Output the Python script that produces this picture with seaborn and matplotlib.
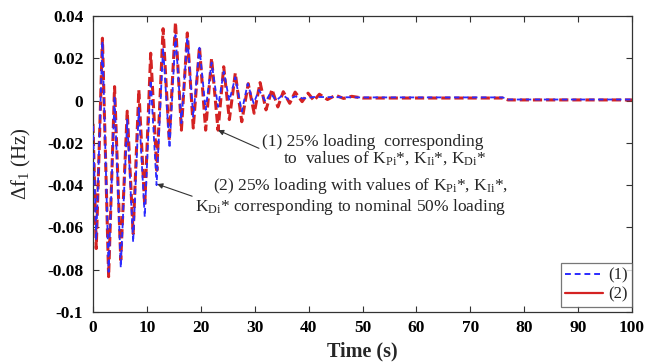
import numpy as np
import pandas as pd
import seaborn as sns
import matplotlib
matplotlib.use("Agg")
import matplotlib.pyplot as plt
from matplotlib.lines import Line2D

# ---- data (extrema) ----
t1 = [0, 0.6, 1.75, 2.9, 4.0, 5.15, 6.35, 7.45, 8.5, 9.6, 10.7, 11.8, 13.0, 14.2,
      15.3, 16.4, 17.5, 18.6, 19.75, 20.9, 22.0, 23.2, 24.25, 25.3, 26.4, 27.6,
      28.7, 29.8, 30.8, 32.0, 32.9, 34.0, 35.2, 36.3, 37.5, 39.0, 41.0, 50.0,
      76.0, 77.0, 100.0]
v1 = [-0.012, -0.066, 0.028, -0.081, 0.002, -0.079, -0.009, -0.067, -0.0035,
      -0.055, 0.0097, -0.040, 0.025, -0.0225, 0.031, -0.0107, 0.030, -0.0076,
      0.025, -0.0044, 0.018, -0.003, 0.0137, 0.0, 0.011, -0.0052, 0.008,
      -0.0013, 0.005, -0.0005, 0.0035, 0.0, 0.0027, 0.0005, 0.002, 0.001,
      0.0017, 0.0015, 0.0015, 0.0005, 0.0005]

t2 = [0, 0.6, 1.75, 2.9, 4.0, 5.15, 6.35, 7.45, 8.5, 9.6, 10.7, 11.85, 13.0,
      14.15, 15.3, 16.4, 17.5, 18.6, 19.75, 20.9, 22.0, 23.2, 24.25, 25.3, 26.4,
      27.6, 28.8, 29.9, 31.0, 32.1, 33.2, 34.3, 35.3, 36.5, 37.5, 38.8, 39.9,
      41.0, 42.0, 43.5, 45.0, 46.5, 48.0, 50.0, 76.0, 77.0, 100.0]
v2 = [-0.011, -0.070, 0.0295, -0.0833, 0.0066, -0.0754, -0.005, -0.063, 0.005,
      -0.050, 0.0224, -0.033, 0.034, -0.019, 0.037, -0.014, 0.032, -0.013,
      0.0255, -0.014, 0.020, -0.014, 0.016, -0.009, 0.013, -0.010, 0.008,
      -0.006, 0.0085, -0.0044, 0.0053, -0.003, 0.0042, -0.0013, 0.004, -0.0005,
      0.0035, 0.0, 0.003, 0.0005, 0.0025, 0.001, 0.002, 0.0012, 0.0012, 0.0003,
      0.0003]

xticks = [0, 10, 20, 30, 40, 50, 60, 70, 80, 90, 100]
yticks = [0.04, 0.02, 0, -0.02, -0.04, -0.06, -0.08, -0.1]
ytick_labels = ["0.04", "0.02", "0", "-0.02", "-0.04", "-0.06", "-0.08", "-0.1"]
series_labels = ["(1)", "(2)"]

df1 = pd.DataFrame({"t": t1, "v": v1})
df2 = pd.DataFrame({"t": t2, "v": v2})

sns.set_style("ticks")
plt.rcParams["font.family"] = ["Liberation Serif", "DejaVu Serif"]
plt.rcParams["mathtext.fontset"] = "custom"
plt.rcParams["mathtext.rm"] = "Liberation Serif"
plt.rcParams["mathtext.it"] = "Liberation Serif:italic"

fig = plt.figure(figsize=(6.57, 3.62), dpi=100)
ax = fig.add_axes([93 / 657, 1 - 312 / 362, (632 - 93) / 657, (312 - 16) / 362])

blue = "#2b2bff"
red = "#d42222"

sns.lineplot(data=df2, x="t", y="v", ax=ax, color=red, lw=2.2, sort=False,
             zorder=2)
ax.lines[-1].set_dashes([3.0, 1.3])
sns.lineplot(data=df1, x="t", y="v", ax=ax, color=blue, lw=1.3, sort=False,
             zorder=3)
ax.lines[-1].set_dashes([3.0, 2.0])

ax.set_xlim(0, 100)
ax.set_ylim(-0.1, 0.04)
ax.set_xticks(xticks)
ax.set_xticklabels([str(x) for x in xticks])
ax.set_yticks(yticks)
ax.set_yticklabels(ytick_labels)
ax.tick_params(direction="in", top=True, right=True, length=4, width=0.8,
               colors="#333333", labelsize=12.5, labelcolor="black")
ax.tick_params(axis="y", pad=7)
ax.tick_params(axis="x", pad=6)
for lab in ax.get_xticklabels() + ax.get_yticklabels():
    lab.set_fontweight("bold")
for s in ax.spines.values():
    s.set_color("#333333")
    s.set_linewidth(0.9)

ax.set_xlabel("Time (s)", fontsize=14.5, fontweight="bold", labelpad=4)
ax.set_ylabel(r"$\Delta$f$_{\rm 1}$ (Hz)", fontsize=15)
ax.yaxis.set_label_coords(-0.111, 0.5)

fs = 12.5
ax.annotate("(1) 25% loading  corresponding", xy=(23.2, -0.014),
            xytext=(31.4, -0.0195), fontsize=fs, ha="left", va="center",
            arrowprops=dict(arrowstyle="-|>", color="#333333", lw=0.8,
                            mutation_scale=8, shrinkA=0, shrinkB=0,
                            relpos=(0, 0.0)))
ax.text(35.3, -0.0272,
        r"to  values of K$_{\rm Pi}$*, K$_{\rm Ii}$*, K$_{\rm Di}$*",
        fontsize=fs, ha="left", va="center")
ax.annotate(r"(2) 25% loading with values of K$_{\rm Pi}$*, K$_{\rm Ii}$*,",
            xy=(11.9, -0.0395), xytext=(22.3, -0.0405), fontsize=fs,
            ha="left", va="center")
ax.annotate(r"K$_{\rm Di}$* corresponding to nominal 50% loading",
            xy=(11.9, -0.0395), xytext=(19.0, -0.0505), fontsize=fs,
            ha="left", va="center",
            arrowprops=dict(arrowstyle="-|>", color="#333333", lw=0.8,
                            mutation_scale=8, shrinkA=0, shrinkB=0,
                            relpos=(0.0, 1.0)))

handles = [Line2D([], [], color=blue, lw=1.4, ls=(0, (3, 2))),
           Line2D([], [], color=red, lw=1.6)]
leg = ax.legend(handles, series_labels, loc="lower right",
                bbox_to_anchor=(1.0, 5 / 296), fontsize=12,
                frameon=True, fancybox=False, borderaxespad=0.0,
                handlelength=2.3, handletextpad=0.3, borderpad=0.25,
                labelspacing=0.2)
leg.get_frame().set_edgecolor("#555555")
leg.get_frame().set_linewidth(0.9)

fig.savefig("out.png", dpi=100)
